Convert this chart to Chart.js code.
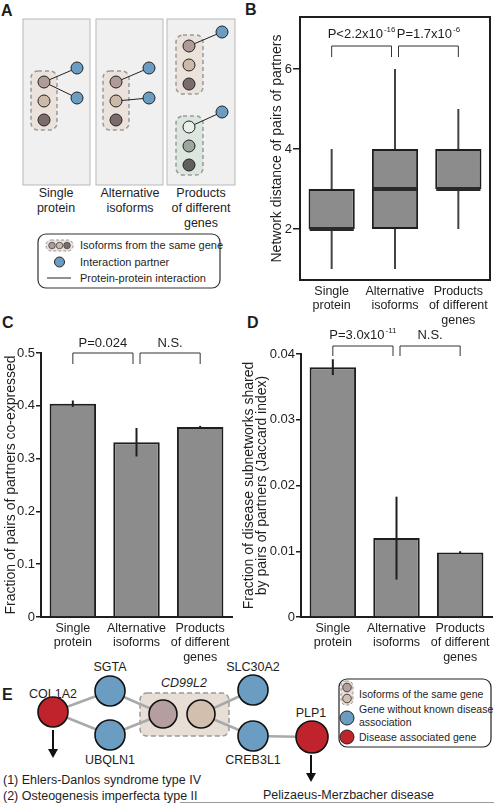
<!DOCTYPE html>
<html>
<head>
<meta charset="utf-8">
<script src="https://cdn.jsdelivr.net/npm/chart.js@4.4.1/dist/chart.umd.min.js"></script>
<style>
  html, body { margin: 0; padding: 0; background: #fff; }
  #page { position: relative; width: 494px; height: 803px; overflow: hidden; font-family: "Liberation Sans", Arial, sans-serif; }
  #page canvas, #page svg { position: absolute; }
  svg text { font-family: "Liberation Sans", Arial, sans-serif; fill: #1e1e1e; }
  .plabel { font-size: 16px; font-weight: bold; }
  .t12 { font-size: 12.5px; }
  .t11 { font-size: 11px; }
  .t10 { font-size: 10.5px; }
</style>
</head>
<body>
<div id="page">
<svg width="494" height="803" style="left:0;top:0">
  <!-- ============ Panel A: schematic ============ -->
  <text x="1" y="16" class="plabel">A</text>
  <rect x="23" y="19" width="67" height="166" fill="#f0f0f0" stroke="#b8b8b8"/>
  <rect x="96" y="19" width="67" height="166" fill="#f0f0f0" stroke="#b8b8b8"/>
  <rect x="167" y="19" width="68" height="166" fill="#f0f0f0" stroke="#b8b8b8"/>

  <rect x="31" y="71" width="26" height="59" rx="7" fill="#ebe2dc" stroke="#9a9a9a" stroke-width="1.5" stroke-dasharray="4 3"/>
  <line x1="44" y1="82" x2="77" y2="68" stroke="#222"/>
  <line x1="44" y1="82" x2="77" y2="98" stroke="#222"/>
  <circle cx="44" cy="82" r="6" fill="#b09b9b" stroke="#222"/>
  <circle cx="44" cy="101" r="6" fill="#cdb9a8" stroke="#222"/>
  <circle cx="44" cy="120" r="6" fill="#7b6b6b" stroke="#222"/>
  <circle cx="77" cy="68" r="6" fill="#6b9dc2" stroke="#222"/>
  <circle cx="77" cy="98" r="6" fill="#6b9dc2" stroke="#222"/>

  <rect x="103" y="71" width="26" height="59" rx="7" fill="#ebe2dc" stroke="#9a9a9a" stroke-width="1.5" stroke-dasharray="4 3"/>
  <line x1="116" y1="82" x2="149" y2="68" stroke="#222"/>
  <line x1="116" y1="101" x2="149" y2="98" stroke="#222"/>
  <circle cx="116" cy="82" r="6" fill="#b09b9b" stroke="#222"/>
  <circle cx="116" cy="101" r="6" fill="#cdb9a8" stroke="#222"/>
  <circle cx="116" cy="120" r="6" fill="#7b6b6b" stroke="#222"/>
  <circle cx="149" cy="68" r="6" fill="#6b9dc2" stroke="#222"/>
  <circle cx="149" cy="98" r="6" fill="#6b9dc2" stroke="#222"/>

  <rect x="176" y="35" width="27" height="59" rx="7" fill="#ebe2dc" stroke="#9a9a9a" stroke-width="1.5" stroke-dasharray="4 3"/>
  <line x1="189" y1="46" x2="222" y2="32" stroke="#222"/>
  <circle cx="189" cy="46" r="6" fill="#b09b9b" stroke="#222"/>
  <circle cx="189" cy="65" r="6" fill="#cdb9a8" stroke="#222"/>
  <circle cx="189" cy="84" r="6" fill="#7b6b6b" stroke="#222"/>
  <circle cx="222" cy="32" r="6" fill="#6b9dc2" stroke="#222"/>
  <rect x="176" y="116" width="27" height="59" rx="7" fill="#dbe6df" stroke="#9a9a9a" stroke-width="1.5" stroke-dasharray="4 3"/>
  <line x1="189" y1="127" x2="222" y2="112" stroke="#222"/>
  <circle cx="189" cy="127" r="6" fill="#eaefea" stroke="#222"/>
  <circle cx="189" cy="146" r="6" fill="#9ea59f" stroke="#222"/>
  <circle cx="189" cy="165" r="6" fill="#5f5f5f" stroke="#222"/>
  <circle cx="222" cy="112" r="6" fill="#6b9dc2" stroke="#222"/>

  <g class="t12" text-anchor="middle">
    <text x="56" y="197">Single</text><text x="56" y="212">protein</text>
    <text x="130" y="197">Alternative</text><text x="130" y="212">isoforms</text>
    <text x="201" y="197">Products</text><text x="201" y="212">of different</text><text x="201" y="227">genes</text>
  </g>

  <rect x="38" y="234" width="182" height="54" rx="8" fill="#fff" stroke="#333" stroke-width="1.2"/>
  <rect x="46" y="240" width="27" height="11" rx="5" fill="#ebe2dc" stroke="#9a9a9a" stroke-dasharray="3 2"/>
  <circle cx="52" cy="245.5" r="3.3" fill="#b09b9b" stroke="#444" stroke-width="0.8"/>
  <circle cx="59.5" cy="245.5" r="3.3" fill="#cdb9a8" stroke="#444" stroke-width="0.8"/>
  <circle cx="67" cy="245.5" r="3.3" fill="#7b6b6b" stroke="#444" stroke-width="0.8"/>
  <circle cx="59.5" cy="262" r="5" fill="#6b9dc2" stroke="#222"/>
  <line x1="47" y1="278" x2="71" y2="278" stroke="#222"/>
  <g class="t11">
    <text x="80" y="249">Isoforms from the same gene</text>
    <text x="80" y="266">Interaction partner</text>
    <text x="80" y="282">Protein-protein interaction</text>
  </g>

  <!-- panel letters for charts -->
  <text x="245" y="15" class="plabel">B</text>
  <text x="2" y="328" class="plabel">C</text>
  <text x="247" y="328" class="plabel">D</text>

  <!-- ============ Panel E: network ============ -->
  <text x="2" y="700" class="plabel">E</text>
  <rect x="140" y="693" width="89" height="43" rx="7" fill="#e7ded6" stroke="#9a9a9a" stroke-width="1.5" stroke-dasharray="5 3"/>
  <g stroke="#a9a9a9" stroke-width="2.5">
    <line x1="53" y1="712" x2="110" y2="691"/>
    <line x1="53" y1="712" x2="110" y2="735"/>
    <line x1="110" y1="691" x2="163" y2="714"/>
    <line x1="110" y1="735" x2="163" y2="714"/>
    <line x1="201" y1="714" x2="253" y2="690"/>
    <line x1="201" y1="714" x2="253" y2="736"/>
    <line x1="253" y1="736" x2="312" y2="737"/>
  </g>
  <g stroke="#111" stroke-width="1.6">
    <circle cx="53" cy="712" r="15" fill="#c0232b"/>
    <circle cx="110" cy="691" r="15" fill="#6b9dc2"/>
    <circle cx="110" cy="735" r="15" fill="#6b9dc2"/>
    <circle cx="163" cy="714" r="14" fill="#b59f9e"/>
    <circle cx="201" cy="714" r="14" fill="#d3bfad"/>
    <circle cx="253" cy="690" r="15" fill="#6b9dc2"/>
    <circle cx="253" cy="736" r="15" fill="#6b9dc2"/>
    <circle cx="312" cy="737" r="16" fill="#c0232b"/>
  </g>
  <g stroke="#111" stroke-width="2">
    <line x1="53" y1="730" x2="53" y2="750"/>
    <line x1="311" y1="755" x2="311" y2="774"/>
  </g>
  <polygon points="48,749 58,749 53,758" fill="#111"/>
  <polygon points="306,773 316,773 311,782" fill="#111"/>
  <g class="t12" text-anchor="middle">
    <text x="53" y="698">COL1A2</text>
    <text x="110" y="671">SGTA</text>
    <text x="110" y="764">UBQLN1</text>
    <text x="184" y="687" font-style="italic">CD99L2</text>
    <text x="253" y="671">SLC30A2</text>
    <text x="253" y="764">CREB3L1</text>
    <text x="311" y="717">PLP1</text>
  </g>
  <g class="t12">
    <text x="3" y="784">(1) Ehlers-Danlos syndrome type IV</text>
    <text x="3" y="800">(2) Osteogenesis imperfecta type II</text>
    <text x="263" y="799">Pelizaeus-Merzbacher disease</text>
  </g>
  <line x1="180" y1="802.5" x2="494" y2="802.5" stroke="#9a9a9a"/>

  <rect x="339" y="679" width="152" height="68" rx="8" fill="#fff" stroke="#222" stroke-width="1.2"/>
  <rect x="341" y="681" width="12" height="24" rx="5" fill="#e7ded6" stroke="#9a9a9a" stroke-dasharray="3 2"/>
  <circle cx="347" cy="687.5" r="4.3" fill="#b59f9e" stroke="#333" stroke-width="0.9"/>
  <circle cx="347" cy="698.5" r="4.3" fill="#d3bfad" stroke="#333" stroke-width="0.9"/>
  <circle cx="347" cy="718" r="7" fill="#6b9dc2" stroke="#222"/>
  <circle cx="347" cy="737" r="7" fill="#c0232b" stroke="#222"/>
  <g class="t10">
    <text x="359" y="698">Isoforms of the same gene</text>
    <text x="359" y="713">Gene without known disease</text>
    <text x="359" y="726">association</text>
    <text x="359" y="741">Disease associated gene</text>
  </g>
</svg>

<canvas id="chartB" width="244" height="340" style="left:250px;top:0"></canvas>
<canvas id="chartC" width="245" height="360" style="left:0;top:320px"></canvas>
<canvas id="chartD" width="254" height="360" style="left:240px;top:320px"></canvas>
</div>

<script>
/* ---- data ---- */
const categories = [['Single', 'protein'], ['Alternative', 'isoforms'], ['Products', 'of different', 'genes']];

// B: network distance of pairs of partners (box plot)
const distMin = [1, 1, 2];
const distQ1 = [2, 2, 3];
const distMedian = [2, 3, 3];
const distQ3 = [3, 4, 4];
const distMax = [4, 6, 5];
const distTicks = [2, 4, 6];
const pTextB = ['P<2.2x10', 'P=1.7x10'];
const pSupB = ['-16', '-6'];

// C: fraction of pairs of partners co-expressed
const coexpressed = [0.404, 0.331, 0.360];
const coexpressedErr = [0.006, 0.027, 0.002];
const coexpressedTicks = [0, 0.1, 0.2, 0.3, 0.4, 0.5];
const pTextC = ['P=0.024', 'N.S.'];
const pSupC = ['', ''];

// D: Jaccard index of disease subnetworks
const jaccard = [0.0380, 0.0120, 0.0098];
const jaccardErr = [0.0012, 0.0063, 0.0002];
const jaccardTicks = [0, 0.01, 0.02, 0.03, 0.04];
const pTextD = ['P=3.0x10', 'N.S.'];
const pSupD = ['-11', ''];

const comparisons = [[0, 1], [1, 2]];

/* ---- style ---- */
const INK = '#1e1e1e';
const BAR = '#8c8c8c';
const FONT = '"Liberation Sans", Arial, sans-serif';

/* ---- plugins ---- */
const frame = {
  id: 'frame',
  afterDraw(chart, args, opts) {
    if (!opts.show) return;
    const { ctx, chartArea: a } = chart;
    ctx.save();
    ctx.strokeStyle = INK; ctx.lineWidth = 2;
    ctx.strokeRect(a.left, a.top, a.right - a.left, a.bottom - a.top);
    ctx.restore();
  }
};

const errorBars = {
  id: 'errorBars',
  afterDatasetsDraw(chart, args, opts) {
    if (!opts.err) return;
    const { ctx, scales: { y } } = chart;
    const meta = chart.getDatasetMeta(0);
    const vals = chart.data.datasets[0].data;
    ctx.save();
    ctx.strokeStyle = INK; ctx.lineWidth = 2;
    opts.err.forEach((e, i) => {
      const px = meta.data[i].x;
      ctx.beginPath();
      ctx.moveTo(px, y.getPixelForValue(vals[i] - e));
      ctx.lineTo(px, y.getPixelForValue(vals[i] + e));
      ctx.stroke();
    });
    ctx.restore();
  }
};

const boxParts = {
  id: 'boxParts',
  beforeDatasetsDraw(chart, args, opts) {
    if (!opts.min) return;
    const { ctx, scales: { y } } = chart;
    const meta = chart.getDatasetMeta(0);
    ctx.save();
    ctx.strokeStyle = '#444'; ctx.lineWidth = 2;
    opts.min.forEach((m, i) => {
      const px = meta.data[i].x;
      ctx.beginPath();
      ctx.moveTo(px, y.getPixelForValue(m));
      ctx.lineTo(px, y.getPixelForValue(opts.q1[i]));
      ctx.moveTo(px, y.getPixelForValue(opts.q3[i]));
      ctx.lineTo(px, y.getPixelForValue(opts.max[i]));
      ctx.stroke();
    });
    ctx.restore();
  },
  afterDatasetsDraw(chart, args, opts) {
    if (!opts.median) return;
    const { ctx, scales: { y } } = chart;
    const meta = chart.getDatasetMeta(0);
    ctx.save();
    ctx.strokeStyle = '#2a2a2a'; ctx.lineWidth = 4;
    opts.median.forEach((m, i) => {
      const bar = meta.data[i];
      const py = y.getPixelForValue(m);
      ctx.beginPath();
      ctx.moveTo(bar.x - bar.width / 2 + 1, py);
      ctx.lineTo(bar.x + bar.width / 2 - 1, py);
      ctx.stroke();
    });
    ctx.restore();
  }
};

const brackets = {
  id: 'brackets',
  afterDraw(chart, args, opts) {
    if (!opts.text) return;
    const { ctx, chartArea, scales: { x } } = chart;
    const top = chartArea.top + opts.offset;
    ctx.save();
    ctx.strokeStyle = '#333'; ctx.lineWidth = 1;
    ctx.fillStyle = INK;
    ctx.textBaseline = 'middle';
    comparisons.forEach((pair, k) => {
      const x0 = x.getPixelForValue(pair[0]) + (k > 0 ? 3.5 : 0);
      const x1 = x.getPixelForValue(pair[1]) - (k < comparisons.length - 1 ? 3.5 : 0);
      ctx.beginPath();
      ctx.moveTo(x0, top + opts.leg); ctx.lineTo(x0, top);
      ctx.lineTo(x1, top); ctx.lineTo(x1, top + opts.leg);
      ctx.stroke();
      ctx.font = '13px ' + FONT;
      const w1 = ctx.measureText(opts.text[k]).width;
      ctx.font = '8px ' + FONT;
      const w2 = opts.sup[k] ? ctx.measureText(opts.sup[k]).width + 1 : 0;
      const sx = (x0 + x1) / 2 - (w1 + w2) / 2;
      const ty = top - opts.gap;
      ctx.font = '13px ' + FONT;
      ctx.textAlign = 'left';
      ctx.fillText(opts.text[k], sx, ty);
      if (opts.sup[k]) {
        ctx.font = '8px ' + FONT;
        ctx.fillText(opts.sup[k], sx + w1 + 1, ty - 4);
      }
    });
    ctx.restore();
  }
};

/* ---- axis helpers ---- */
function yAxis(min, max, ticks, title, width, titlePad, border, tickLen, titleLH) {
  return {
    min, max,
    afterBuildTicks: s => { s.ticks = ticks.map(v => ({ value: v })); },
    afterFit: s => { s.width = width; },
    border: { display: border, color: INK, width: 2 },
    grid: { drawOnChartArea: false, drawTicks: true, tickLength: tickLen, color: INK, lineWidth: 1.5 },
    ticks: { color: INK, font: { size: 13, family: FONT }, padding: 1, callback: v => String(v) },
    title: { display: true, text: title, color: INK, font: { size: 14, family: FONT, lineHeight: titleLH }, padding: { top: titlePad, bottom: 0 } }
  };
}

function xAxis(height, border) {
  return {
    type: 'category',
    offset: true,
    afterFit: s => { s.height = height; },
    border: { display: border, color: INK, width: 2 },
    grid: { display: false, drawTicks: false },
    ticks: { color: INK, font: { size: 12.5, family: FONT, lineHeight: 1.16 }, padding: 4, maxRotation: 0, autoSkip: false }
  };
}

const common = {
  responsive: false,
  animation: false,
  events: [],
  plugins: { legend: { display: false }, tooltip: { enabled: false } }
};

/* ---- B ---- */
new Chart(document.getElementById('chartB'), {
  type: 'bar',
  data: {
    labels: categories,
    datasets: [{
      data: distQ1.map((q, i) => [q, distQ3[i]]),
      backgroundColor: BAR, borderColor: INK, borderWidth: 2, borderSkipped: false,
      categoryPercentage: 1, barPercentage: 0.73
    }]
  },
  options: {
    ...common,
    layout: { autoPadding: false, padding: { top: 17, right: 4, left: 0, bottom: 0 } },
    scales: {
      x: xAxis(60, false),
      y: yAxis(0.725, 7.3, distTicks, 'Network distance of pairs of partners', 50, 19, false, 7, 1.15)
    },
    plugins: {
      ...common.plugins,
      frame: { show: true },
      boxParts: { min: distMin, q1: distQ1, median: distMedian, q3: distQ3, max: distMax },
      brackets: { text: pTextB, sup: pSupB, offset: 29, leg: 11, gap: 12 }
    }
  },
  plugins: [frame, boxParts, brackets]
});

/* ---- C ---- */
new Chart(document.getElementById('chartC'), {
  type: 'bar',
  data: {
    labels: categories,
    datasets: [{
      data: coexpressed,
      backgroundColor: BAR, borderColor: INK, borderWidth: 2,
      categoryPercentage: 1, barPercentage: 0.73
    }]
  },
  options: {
    ...common,
    layout: { autoPadding: false, padding: { top: 33, right: 13, left: 0, bottom: 0 } },
    scales: {
      x: xAxis(63, true),
      y: yAxis(0, 0.5, coexpressedTicks, 'Fraction of pairs of partners co-expressed', 41, 3, true, 5, 1.15)
    },
    plugins: {
      ...common.plugins,
      errorBars: { err: coexpressedErr },
      brackets: { text: pTextC, sup: pSupC, offset: 0, leg: 11, gap: 10 }
    }
  },
  plugins: [errorBars, brackets]
});

/* ---- D ---- */
new Chart(document.getElementById('chartD'), {
  type: 'bar',
  data: {
    labels: categories,
    datasets: [{
      data: jaccard,
      backgroundColor: BAR, borderColor: INK, borderWidth: 2,
      categoryPercentage: 1, barPercentage: 0.73
    }]
  },
  options: {
    ...common,
    layout: { autoPadding: false, padding: { top: 34, right: 2, left: 0, bottom: 0 } },
    scales: {
      x: xAxis(63, true),
      y: yAxis(0, 0.04, jaccardTicks, ['Fraction of disease subnetworks shared', 'by pairs of partners (Jaccard index)'], 61, 2, true, 5, 0.95)
    },
    plugins: {
      ...common.plugins,
      errorBars: { err: jaccardErr },
      brackets: { text: pTextD, sup: pSupD, offset: -8, leg: 10, gap: 11 }
    }
  },
  plugins: [errorBars, brackets]
});
</script>
</body>
</html>
